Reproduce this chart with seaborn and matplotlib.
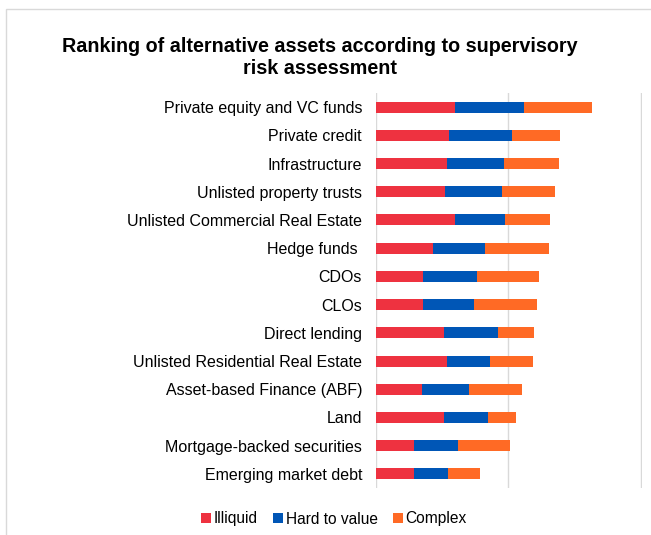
""" Ranking of alternative assets - supervisory risk assessment """

import pandas as pd
import numpy as np
import matplotlib.pyplot as plt
import seaborn as sns
from matplotlib.patches import Rectangle

assets = ['Private equity and VC funds', 'Private credit', 'Infrastructure',
          'Unlisted property trusts', 'Unlisted Commercial Real Estate',
          'Hedge funds ', 'CDOs', 'CLOs', 'Direct lending',
          'Unlisted Residential Real Estate', 'Asset-based Finance (ABF)',
          'Land', 'Mortgage-backed securities', 'Emerging market debt']

illiquid = [6.0, 5.5, 5.4, 5.2, 5.95, 4.3, 3.55, 3.55, 5.15, 5.35, 3.45, 5.15, 2.85, 2.85]
hard_to_value = [5.2, 4.8, 4.3, 4.35, 3.8, 3.95, 4.05, 3.85, 4.05, 3.25, 3.55, 3.35, 3.35, 2.6]
complex_ = [5.1, 3.6, 4.1, 3.95, 3.4, 4.85, 4.7, 4.8, 2.75, 3.25, 4.0, 2.1, 3.9, 2.4]

series = ['Illiquid', 'Hard to value', 'Complex']
colors = ['#EE3240', '#0056B6', '#FF6A25']

df = pd.DataFrame({'asset': assets, 'Illiquid': illiquid,
                   'Hard to value': hard_to_value, 'Complex': complex_})
df['cum1'] = df['Illiquid']
df['cum2'] = df['cum1'] + df['Hard to value']
df['cum3'] = df['cum2'] + df['Complex']

plt.rcParams['font.family'] = ['Liberation Sans', 'DejaVu Sans']

fig = plt.figure(figsize=(6.51, 5.35), dpi=100)
ax = fig.add_axes([376 / 651, 1 - 488 / 535, (642 - 376) / 651, (488 - 93) / 535])

# stacked bars drawn as overlapping cumulative totals
for col, name, c in [('cum3', 'Complex', colors[2]),
                     ('cum2', 'Hard to value', colors[1]),
                     ('cum1', 'Illiquid', colors[0])]:
    sns.barplot(data=df, x=col, y='asset', orient='h', color=c, width=0.39,
                saturation=1, ax=ax, label=name, linewidth=0)

handles, labels = ax.get_legend_handles_labels()
if ax.get_legend() is not None:
    ax.get_legend().remove()

ax.set_xlim(0, 20.1)
ax.set_ylim(13.5, -0.5)
ax.set_xticks([0, 10, 20])
ax.set_xticklabels([])
ax.tick_params(axis='both', length=0, labelsize=11.5, pad=10, labelcolor='#000000')
ax.set_xlabel('')
ax.set_ylabel('')
ax.grid(axis='x', color='#D9D9D9', linewidth=1)
ax.set_axisbelow(True)
for s in ax.spines.values():
    s.set_visible(False)

fig.text(0.492, 1 - 46 / 535, 'Ranking of alternative assets according to supervisory',
         ha='center', va='center', fontsize=14.2, fontweight='bold')
fig.text(0.492, 1 - 68 / 535, 'risk assessment',
         ha='center', va='center', fontsize=14.2, fontweight='bold')

order = [labels.index(s) for s in series]
fig.legend([handles[i] for i in order], series, loc='center',
           bbox_to_anchor=(334 / 651, 1 - 519 / 535), ncol=3, frameon=False,
           fontsize=11.2, handlelength=0.65, handleheight=0.65, handletextpad=0.15,
           columnspacing=1.0)

# light chart border
fig.patches.append(Rectangle((6 / 651, -0.1), 1.2, 1 - 9 / 535 + 0.1,
                             transform=fig.transFigure, fill=False,
                             edgecolor='#D9D9D9', linewidth=1))

fig.savefig('out.png', dpi=100)
